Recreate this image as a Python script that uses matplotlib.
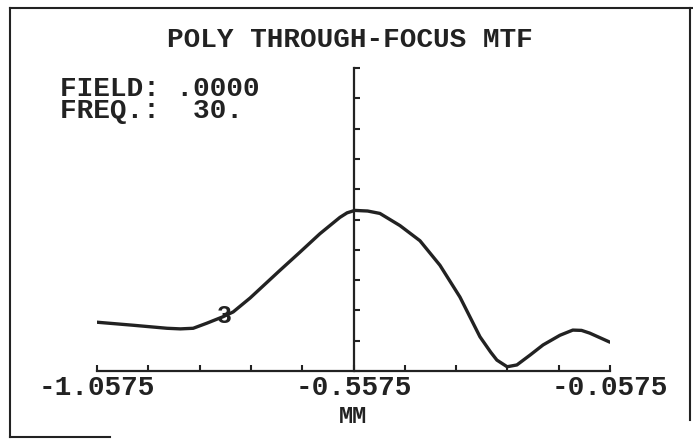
import matplotlib.pyplot as plt
from matplotlib.lines import Line2D

# Through-focus MTF data
focus_mm = [-1.0575, -0.987, -0.921, -0.895, -0.870, -0.843, -0.812, -0.792,
            -0.759, -0.701, -0.662, -0.623, -0.584, -0.570, -0.555, -0.530,
            -0.506, -0.467, -0.428, -0.389, -0.350, -0.311, -0.290, -0.278,
            -0.258, -0.239, -0.213, -0.188, -0.155, -0.130, -0.113, -0.097,
            -0.0575]
mtf = [0.161, 0.151, 0.141, 0.139, 0.141, 0.158, 0.179, 0.195,
       0.241, 0.332, 0.392, 0.453, 0.507, 0.522, 0.530, 0.528,
       0.520, 0.480, 0.430, 0.349, 0.244, 0.113, 0.062, 0.036,
       0.014, 0.020, 0.053, 0.086, 0.118, 0.135, 0.134, 0.125,
       0.095]

tick_pos = [-1.0575, -0.5575, -0.0575]
tick_labels = ["-1.0575", "-0.5575", "-0.0575"]
title = "POLY THROUGH-FOCUS MTF"
info_lines = ["FIELD: .0000", "FREQ.:  30."]
curve_id = "3"

ink = "#222222"
mono = "Liberation Mono"

fig = plt.figure(figsize=(6.93, 4.40), dpi=100)
W, H = 693, 440

def fy(py):
    return 1 - py / H

ax = fig.add_axes([97 / W, fy(371), (610 - 97) / W, (371 - 68) / H])
ax.plot(focus_mm, mtf, color=ink, lw=2.4, solid_joinstyle="round",
        solid_capstyle="round")
ax.text(-0.8085, 0.18, curve_id, fontsize=18, family=mono, weight="bold",
        color=ink, ha="center", va="center")

ax.set_xlim(-1.0575, -0.0575)
ax.set_ylim(0, 1)
for s in ["top", "right"]:
    ax.spines[s].set_visible(False)
ax.spines["left"].set_position(("data", -0.5575))
for s in ["left", "bottom"]:
    ax.spines[s].set_linewidth(1.6)
    ax.spines[s].set_color(ink)

ax.set_xticks(tick_pos)
ax.set_xticklabels(tick_labels, family=mono, weight="bold", fontsize=20, color=ink)
ax.set_xticks([-1.0575 + 0.1 * i for i in range(11)], minor=True)
ax.tick_params(axis="x", which="both", direction="in", length=4, width=1.5,
               color=ink, pad=3)
ax.set_yticks([0.1 * i for i in range(11)])
ax.tick_params(axis="y", direction="in", length=4, width=1.5, color=ink,
               labelleft=False)

# texts in figure coords
fig.text(350 / W, fy(47), title, family=mono, weight="bold", fontsize=20,
         color=ink, ha="center", va="baseline")
fig.text(60 / W, fy(76), "\n".join(info_lines), family=mono, weight="bold",
         fontsize=20, color=ink, ha="left", va="top", linespacing=0.8)
fig.text(353 / W, fy(423), "MM", family=mono, weight="bold", fontsize=17,
         color=ink, ha="center", va="baseline")

# page frame of the scan
frame = [((10, 692), (8, 8)), ((10, 10), (8, 437)), ((690, 690), (8, 420)),
         ((10, 110), (437, 437))]
for xs, ys in frame:
    fig.add_artist(Line2D([x / W for x in xs], [fy(y) for y in ys],
                          color=ink, lw=1.5))

fig.savefig("out.png", dpi=100)
